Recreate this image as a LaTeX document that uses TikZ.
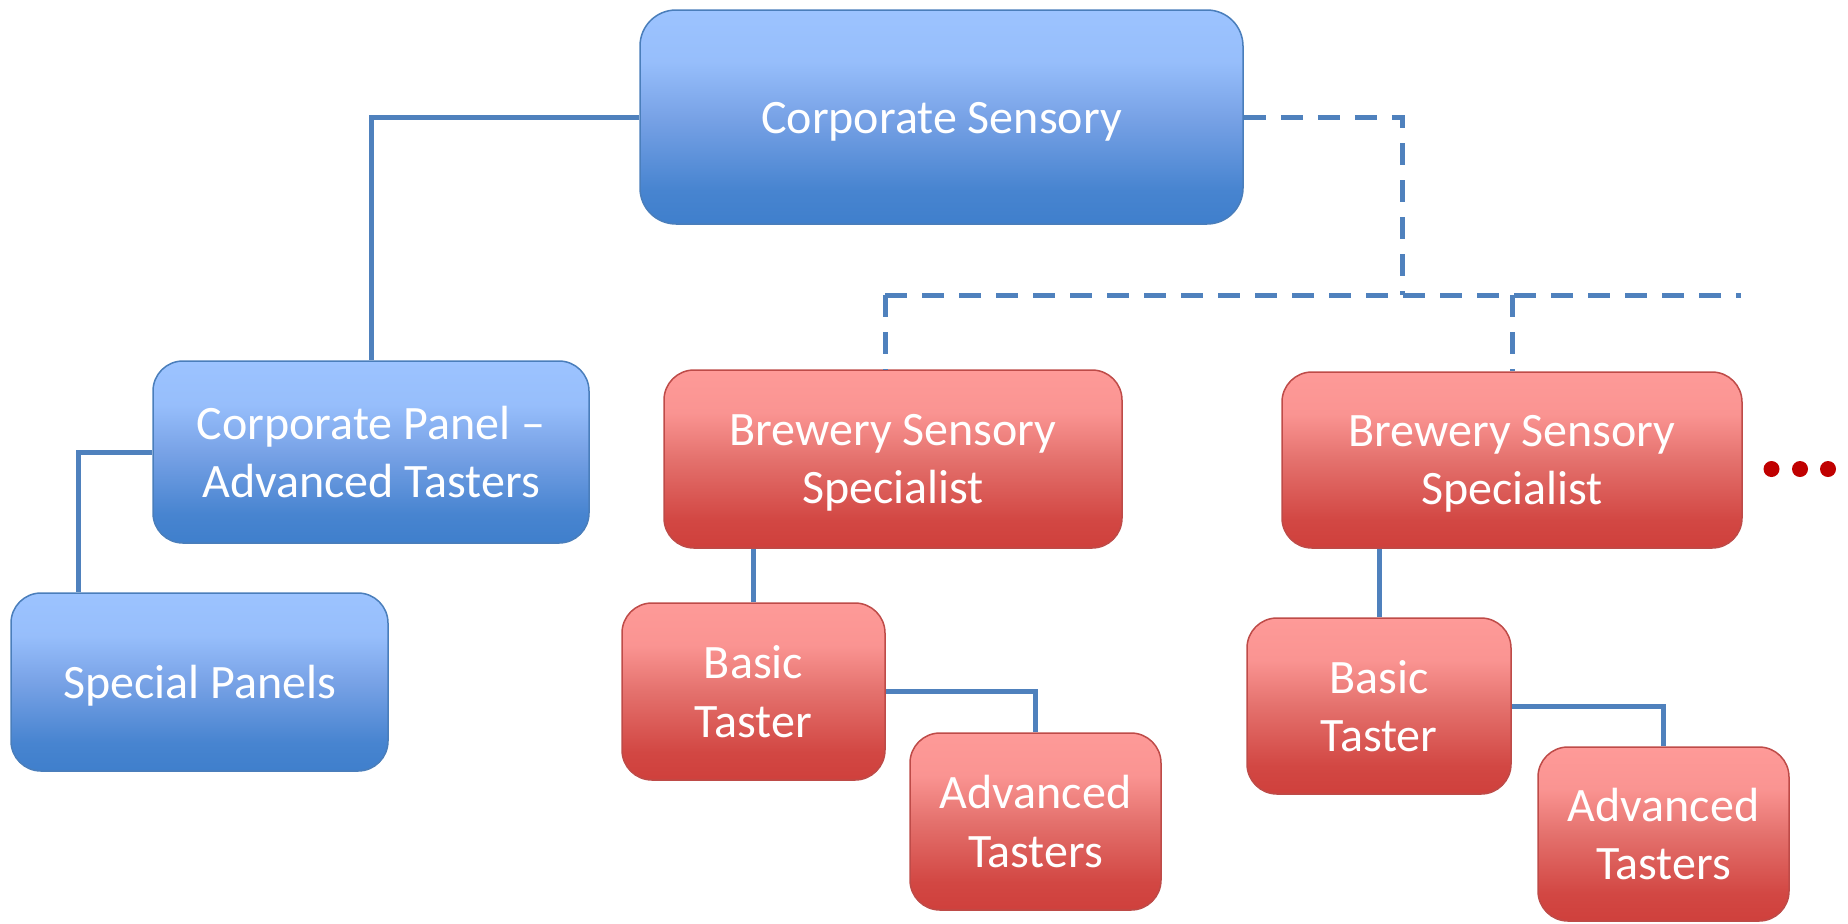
\documentclass[tikz,border=0pt]{standalone}
\usepackage{fontspec}
\setmainfont{Carlito}
\usetikzlibrary{calc}
\definecolor{bbot}{HTML}{3F7FCC}
\definecolor{bmid}{HTML}{78A2E6}
\definecolor{btop}{HTML}{9CC3FF}
\definecolor{bborder}{HTML}{4A7EBB}
\definecolor{rbot}{HTML}{CF403C}
\definecolor{rmid}{HTML}{E4716D}
\definecolor{rtop}{HTML}{FE9A98}
\definecolor{rborder}{HTML}{BE4B48}
\definecolor{conn}{HTML}{4F81BD}
\definecolor{dotred}{HTML}{C00000}
\pgfdeclareverticalshading{blueg}{100bp}{color(0bp)=(bbot); color(25bp)=(bbot); color(33bp)=(bbot!85!bmid); color(50bp)=(bmid); color(63bp)=(btop!85!bmid); color(75bp)=(btop); color(100bp)=(btop)}
\pgfdeclareverticalshading{redg}{100bp}{color(0bp)=(rbot); color(25bp)=(rbot); color(33bp)=(rbot!85!rmid); color(50bp)=(rmid); color(63bp)=(rtop!85!rmid); color(75bp)=(rtop); color(100bp)=(rtop)}
\tikzset{
  box/.style={rectangle, rounded corners=15pt, line width=0.75pt, text=white, align=center,
    inner sep=0pt, font=\fontsize{24}{29.3}\selectfont,
    execute at begin node={\rule{0pt}{22pt}},
    execute at end node={\rule[-6pt]{0pt}{6pt}}},
  twoline/.style={text depth=-1pt},
  bluebox/.style={box, shading=blueg, draw=bborder},
  redbox/.style={box, shading=redg, draw=rborder},
  sz/.style 2 args={minimum width=#1*0.5pt, minimum height=#2*0.5pt},
  link/.style={draw=conn, line width=2.5pt},
  dlink/.style={link, dash pattern=on 11pt off 7.5pt},
}
\begin{document}
\begin{tikzpicture}[x=0.5pt, y=-0.5pt]
\useasboundingbox (0,0) rectangle (1848,923);
% nodes
\node[bluebox, sz={603}{214}, rounded corners=18pt] (cs) at (941.5,117) {Corporate Sensory};
\node[bluebox, twoline, sz={436}{182}] (cp) at (371,452) {Corporate Panel –\\Advanced Tasters};
\node[bluebox, sz={377}{178}] (sp) at (199.5,682) {Special Panels};
\node[redbox, twoline, sz={458}{178}] (bss1) at (893,459) {Brewery Sensory\\Specialist};
\node[redbox, twoline, sz={263}{177}] (bt1) at (753.5,691.5) {Basic\\Taster};
\node[redbox, twoline, sz={251}{177}] (at1) at (1035.5,821.5) {Advanced\\Tasters};
\node[redbox, twoline, sz={460}{176}] (bss2) at (1512,460) {Brewery Sensory\\Specialist};
\node[redbox, twoline, sz={264}{176}] (bt2) at (1379,706) {Basic\\Taster};
\node[redbox, twoline, sz={251}{174}] (at2) at (1663.5,834) {Advanced\\Tasters};
% junction coordinates
\coordinate (spx) at (78,0);
\coordinate (jr) at (1402.5,295);
\coordinate (hl) at (885,295);
\coordinate (hr) at (1741,295);
% solid connectors
\draw[link] (cs.west) -| (cp.north);
\draw[link] (cp.west) -| (sp.north -| spx);
\draw[link] (bss1.south -| bt1.north) -- (bt1.north);
\draw[link] (bt1.east) -| (at1.north);
\draw[link] (bss2.south -| bt2.north) -- (bt2.north);
\draw[link] (bt2.east) -| (at2.north);
% dashed connectors
\draw[dlink] (cs.east) -| (jr);
\draw[dlink] (hl) -- (hr);
\draw[dlink] (hl) -- (hl |- bss1.north);
\draw[dlink] (bss2.north |- hl) -- (bss2.north);
% continuation dots
\fill[dotred] (1771.5,469) circle[radius=4pt];
\fill[dotred] (1800,469) circle[radius=4pt];
\fill[dotred] (1828,469) circle[radius=4pt];
\end{tikzpicture}
\end{document}
